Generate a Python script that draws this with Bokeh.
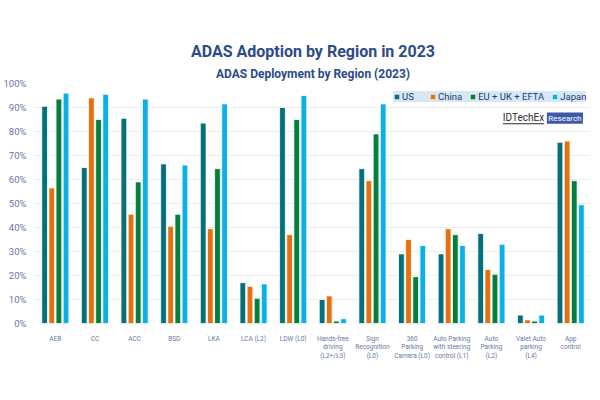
from bokeh.plotting import figure
from bokeh.models import Range1d, FixedTicker, Title, Legend, LegendItem, Label, BoxAnnotation
from bokeh.embed import file_html
from bokeh.resources import INLINE
import numpy as np

categories = ["AEB", "CC", "ACC", "BSD", "LKA", "LCA (L2)", "LDW (L0)",
              "Hands-free\ndriving\n(L2+/L3)", "Sign\nRecognition\n(L0)",
              "360\nParking\nCamera (L0)", "Auto Parking\nwith steering\ncontrol (L1)",
              "Auto\nParking\n(L2)", "Valet Auto\nparking\n(L4)", "App\ncontrol"]
us    = [90.5, 65.0, 85.5, 66.5, 83.5, 17.0, 90.0, 10.0, 64.5, 29.0, 29.0, 37.5, 3.5, 75.5]
china = [56.5, 94.0, 45.5, 40.5, 39.5, 15.5, 37.0, 11.5, 59.5, 35.0, 39.5, 22.5, 1.5, 76.0]
eu    = [93.5, 85.0, 59.0, 45.5, 64.5, 10.5, 85.0, 1.0, 79.0, 19.5, 37.0, 20.5, 1.0, 59.5]
japan = [96.0, 95.5, 93.5, 66.0, 91.5, 16.5, 95.0, 2.0, 91.5, 32.5, 32.5, 33.0, 3.5, 49.5]
series_names = ["US", "China", "EU + UK + EFTA", "Japan"]
series_colors = ["#03707b", "#e4700e", "#04803e", "#0cb0e8"]
y_ticks = list(range(0, 101, 10))

FONT = "Roboto"

p = figure(width=600, height=400, output_backend="svg", toolbar_location=None,
           x_range=Range1d(-0.5, len(categories) - 0.5), y_range=Range1d(0, 100),
           min_border_left=35, min_border_right=10, min_border_top=83, min_border_bottom=77)
p.outline_line_color = None
p.background_fill_color = "white"

idx = np.arange(len(categories))
offsets = [-0.27, -0.09, 0.09, 0.27]
items = []
for vals, name, col, off in zip([us, china, eu, japan], series_names, series_colors, offsets):
    r = p.vbar(x=idx + off, top=vals, bottom=0, width=0.145, fill_color=col,
               line_color="white", line_width=0.8)
    items.append(LegendItem(label=name, renderers=[r]))

legend = Legend(items=items, orientation="horizontal", location=(358, 221),
                background_fill_color="#d8e7f6", background_fill_alpha=1.0,
                border_line_color=None, label_text_font=FONT, label_text_font_size="9.5px",
                label_text_color="#1f3b70", glyph_width=7, glyph_height=7,
                label_height=10, label_standoff=2, spacing=7, padding=4, margin=0)
p.add_layout(legend, "center")

# axes
p.xaxis.ticker = FixedTicker(ticks=list(idx))
p.xaxis.major_label_overrides = {int(i): c for i, c in zip(idx, categories)}
p.xaxis.major_label_text_font = FONT
p.xaxis.major_label_text_font_size = "6.5px"
p.xaxis.major_label_text_color = "#6878a8"
p.xaxis.major_label_text_line_height = 1.1
p.xaxis.axis_line_color = None
p.xaxis.major_tick_line_color = None
p.xaxis.minor_tick_line_color = None
p.xaxis.major_label_standoff = 5

p.yaxis.ticker = FixedTicker(ticks=y_ticks)
p.yaxis.major_label_overrides = {t: f"{t}%" for t in y_ticks}
p.yaxis.major_label_text_font = FONT
p.yaxis.major_label_text_font_size = "9.5px"
p.yaxis.major_label_text_color = "#6878a8"
p.yaxis.axis_line_color = None
p.yaxis.major_tick_line_color = None
p.yaxis.minor_tick_line_color = None
p.yaxis.major_label_standoff = 3

p.xgrid.grid_line_color = None
p.ygrid.grid_line_color = "#ececec"
p.ygrid.grid_line_width = 1

# titles
p.add_layout(Title(text="ADAS Deployment by Region (2023)", align="center", text_font=FONT,
                   text_font_size="12px", text_font_style="bold", text_color="#2d4a8a",
                   standoff=5), "above")
p.add_layout(Title(text="ADAS Adoption by Region in 2023", align="center", text_font=FONT,
                   text_font_size="16px", text_font_style="bold", text_color="#2d4a8a",
                   standoff=3), "above")

# logo
p.add_layout(Label(x=11.81, y=85.8, text="IDTechEx", text_align="center", text_baseline="middle",
                   text_font=FONT, text_font_size="10px", text_color="#2a2a2a"))
p.add_layout(BoxAnnotation(left=11.29, right=12.33, bottom=83.0, top=83.45,
                           fill_color="#2a2a2a", fill_alpha=1, line_color=None))
p.add_layout(BoxAnnotation(left=12.40, right=13.31, bottom=83.2, top=87.9,
                           fill_color="#3d5aa8", fill_alpha=1, line_color=None))
p.add_layout(Label(x=12.855, y=85.6, text="Research", text_align="center", text_baseline="middle",
                   text_font=FONT, text_font_size="8px", text_color="white"))

open("out.html", "w").write(file_html(p, INLINE))
